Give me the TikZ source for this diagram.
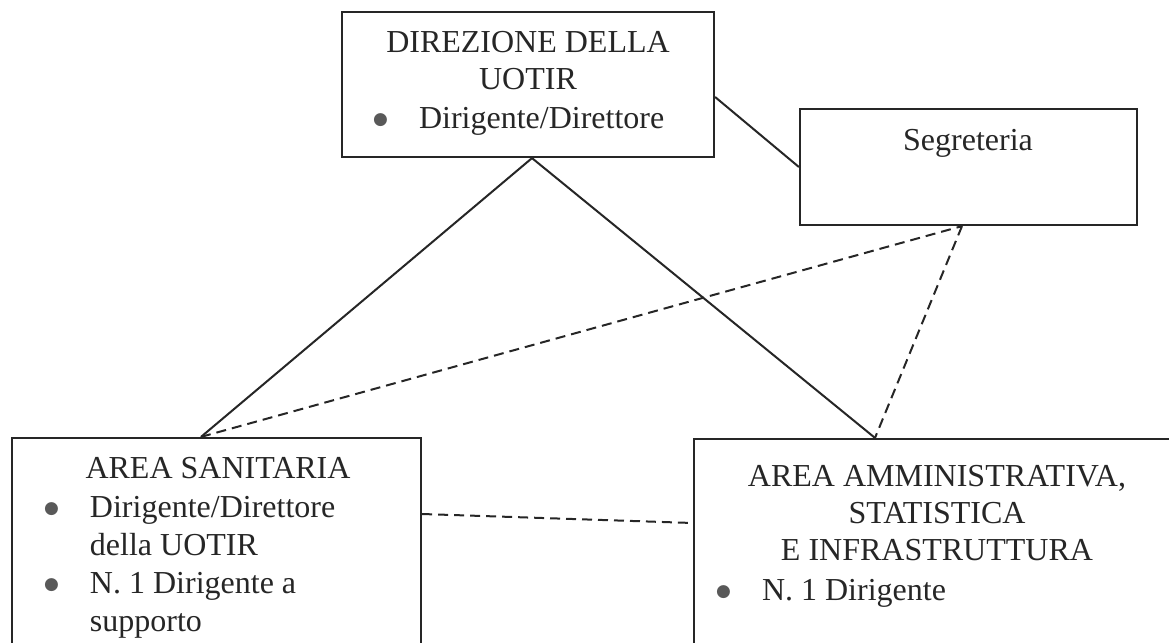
\documentclass[tikz,border=0pt]{standalone}
\usepackage{fontspec}
\setmainfont{Liberation Serif}
\newfontfamily\simboli{DejaVu Sans}
\usetikzlibrary{calc}
\newcommand{\pallino}{\raisebox{2pt}{\textcolor{black!65}{\fontsize{8.5}{8.5}\simboli ●}}}
\newcommand{\puntino}{\makebox[23pt][l]{\pallino}}

\begin{document}
\begin{tikzpicture}[x=0.5pt, y=-0.5pt, line width=1pt, color=black!85,
  every node/.append style={inner sep=0pt, font=\fontsize{16}{18.5}\selectfont},
  box/.style={draw, rectangle, line width=1.1pt},
  titolo/.style={align=center, anchor=base},
  voce/.style={anchor=base west, font=\fontsize{16}{19}\selectfont},
  tratto/.style={dash pattern=on 5pt off 3pt}]
  \useasboundingbox (0,0) rectangle (1169,643);
  \clip (0,0) rectangle (1169,643);
  \node[box, minimum width=186pt, minimum height=72.5pt] (direzione) at (528,84.5) {};
  \node[box, minimum width=168.5pt, minimum height=58pt] (segreteria) at (968.5,167) {};
  \node[box, minimum width=204.5pt, minimum height=111pt] (sanitaria) at (216.5,549) {};
  \node[box, minimum width=243pt, minimum height=110.5pt] (amministrativa) at (937,549.5) {};
  \node[titolo] (direzioneT) at (528,89) {DIREZIONE DELLA\\UOTIR};
  \node[voce] (direzioneL) at (372,128) {\puntino Dirigente/Direttore};
  \node[titolo] (segreteriaT) at (968,150) {Segreteria};
  \node[titolo] (sanitariaT) at (218,478) {AREA SANITARIA};
  \node[voce] (sanitariaL) at (43,517) {\begin{tabular}[t]{@{}p{23pt}@{}l@{}}
    \pallino & Dirigente/Direttore\\
    & della UOTIR\\
    \pallino & N. 1 Dirigente a\\
    & supporto
  \end{tabular}};
  \node[titolo] (amministrativaT) at (937,560) {AREA AMMINISTRATIVA,\\STATISTICA\\E INFRASTRUTTURA};
  \node[voce] (amministrativaL) at (715,600) {\puntino N. 1 Dirigente};
  \coordinate (dirS) at ($(direzione.south)+(4,0)$);
  \coordinate (dirE) at ($(direzione.east)+(0,12.5)$);
  \coordinate (segS) at ($(segreteria.south)+(-6.5,0)$);
  \coordinate (sanN) at ($(sanitaria.north)+(-15.5,0)$);
  \coordinate (sanE) at ($(sanitaria.east)+(0,-35)$);
  \coordinate (ammN) at ($(amministrativa.north)+(-62,0)$);
  \coordinate (ammW) at ($(amministrativa.west)+(0,-26.5)$);
  \draw (dirS) -- (sanN) (dirS) -- (ammN);
  \draw (dirE) -- (segreteria.west);
  \draw[tratto] (sanN) -- (segS) (segS) -- (ammN);
  \draw[tratto] (sanE) -- (ammW);
\end{tikzpicture}
\end{document}
